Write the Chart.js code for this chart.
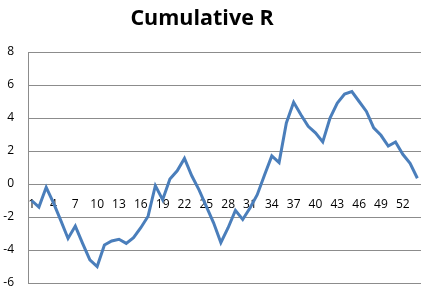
<!DOCTYPE html>
<html>
<head>
<meta charset="utf-8">
<script src="https://cdn.jsdelivr.net/npm/chart.js@4"></script>
<style>
  html, body { margin: 0; padding: 0; background: #fff; }
  #wrap { width: 434px; height: 293px; }
</style>
</head>
<body>
<div id="wrap"><canvas id="cumChart"></canvas></div>
<script>
// data
const titleText = 'Cumulative R';
const weeks = Array.from({ length: 54 }, (_, i) => String(i + 1));
const cumulativeR = [
  -1.0, -1.4, -0.2, -1.15, -2.2, -3.3, -2.55, -3.6, -4.6, -5.0,
  -3.7, -3.45, -3.35, -3.6, -3.25, -2.65, -1.95, -0.1, -0.95, 0.3,
  0.8, 1.55, 0.5, -0.35, -1.35, -2.35, -3.55, -2.65, -1.6, -2.15,
  -1.45, -0.65, 0.55, 1.7, 1.3, 3.7, 4.95, 4.2, 3.5, 3.1,
  2.55, 4.0, 4.9, 5.45, 5.6, 5.0, 4.4, 3.4, 2.95, 2.3,
  2.55, 1.8, 1.25, 0.35
];
const yTicks = [-6, -4, -2, 0, 2, 4, 6, 8];

// title drawn by hand so it can sit over the plot like in Excel
const titlePlugin = {
  id: 'excelTitle',
  afterDraw(chart) {
    const c = chart.ctx;
    c.save();
    c.font = 'bold 21.5px "Open Sans"';
    c.fillStyle = '#000';
    c.textAlign = 'center';
    c.textBaseline = 'middle';
    c.fillText(titleText, 202, 19);
    c.restore();
  }
};

const noPad = (s) => {
  s.paddingTop = 0; s.paddingBottom = 0; s.paddingLeft = 0; s.paddingRight = 0;
};

const ctx = document.getElementById('cumChart').getContext('2d');
new Chart(ctx, {
  type: 'line',
  data: {
    labels: weeks,
    datasets: [{
      label: titleText,
      data: cumulativeR,
      borderColor: '#4a7ebb',
      borderWidth: 3,
      pointRadius: 0,
      tension: 0,
      fill: false
    }]
  },
  plugins: [titlePlugin],
  options: {
    responsive: true,
    maintainAspectRatio: false,
    animation: false,
    layout: { padding: { top: 52, right: 13, bottom: 10, left: 0 } },
    plugins: {
      legend: { display: false },
      title: { display: false },
      tooltip: { enabled: false }
    },
    scales: {
      x: {
        position: { y: 0 },
        offset: true,
        afterFit: (s) => { s.height = 0; noPad(s); },
        grid: { display: false, drawTicks: false },
        border: { display: false },
        ticks: {
          autoSkip: false,
          maxRotation: 0,
          padding: 13,
          color: '#000',
          font: { family: 'Open Sans', size: 12 },
          callback: (v, i) => (i % 3 === 0 ? weeks[i] : '')
        }
      },
      y: {
        min: -6,
        max: 8,
        afterBuildTicks: (s) => { s.ticks = yTicks.map(v => ({ value: v })); },
        afterFit: (s) => { s.width = 28; noPad(s); },
        grid: { color: '#8c8c8c', lineWidth: 1, drawTicks: false },
        border: { display: true, color: '#8c8c8c' },
        ticks: {
          padding: 14,
          color: '#000',
          font: { family: 'Open Sans', size: 12 }
        }
      }
    }
  }
});
</script>
</body>
</html>
